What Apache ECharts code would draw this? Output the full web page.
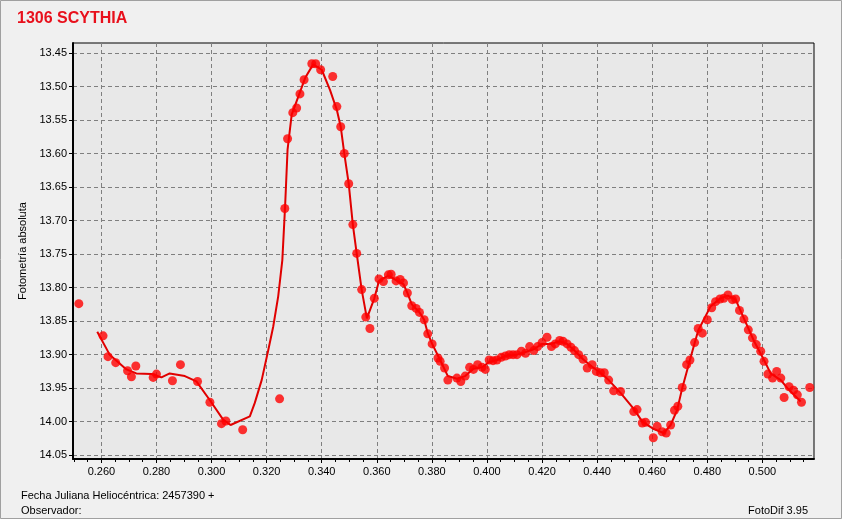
<!DOCTYPE html>
<html>
<head>
<meta charset="utf-8">
<script src="https://cdn.jsdelivr.net/npm/echarts@6/dist/echarts.min.js"></script>
<style>
html,body{margin:0;padding:0;background:#f0f0f0;}
#c{width:842px;height:519px;}
</style>
</head>
<body>
<div id="c"></div>
<script>
var obsPhase = [0.2518,0.2606,0.2624,0.2652,0.2695,0.2709,0.2725,0.2788,0.2800,0.2858,0.2887,0.2949,0.2994,0.3036,0.3052,0.3113,0.3247,0.3266,0.3276,0.3295,0.3309,0.3321,0.3336,0.3364,0.3378,0.3396,0.3440,0.3455,0.3469,0.3482,0.3498,0.3513,0.3527,0.3545,0.3560,0.3575,0.3591,0.3608,0.3624,0.3642,0.3652,0.3670,0.3685,0.3697,0.3711,0.3727,0.3743,0.3755,0.3772,0.3785,0.3801,0.3822,0.3830,0.3846,0.3858,0.3891,0.3905,0.3921,0.3937,0.3951,0.3966,0.3982,0.3994,0.4008,0.4022,0.4036,0.4052,0.4067,0.4081,0.4095,0.4109,0.4125,0.4140,0.4155,0.4170,0.4184,0.4200,0.4218,0.4234,0.4248,0.4264,0.4276,0.4291,0.4305,0.4318,0.4333,0.4349,0.4364,0.4382,0.4397,0.4412,0.4426,0.4442,0.4460,0.4485,0.4533,0.4545,0.4564,0.4576,0.4604,0.4618,0.4636,0.4651,0.4667,0.4681,0.4693,0.4709,0.4725,0.4737,0.4754,0.4767,0.4782,0.4800,0.4816,0.4830,0.4846,0.4860,0.4875,0.4891,0.4903,0.4917,0.4933,0.4949,0.4964,0.4978,0.4994,0.5006,0.5020,0.5037,0.5052,0.5067,0.5079,0.5097,0.5113,0.5127,0.5142,0.5172];
var obsMag = [13.824,13.872,13.903,13.912,13.924,13.933,13.917,13.934,13.929,13.939,13.915,13.940,13.971,14.003,13.999,14.012,13.966,13.682,13.578,13.539,13.532,13.511,13.490,13.466,13.466,13.475,13.485,13.530,13.560,13.600,13.645,13.706,13.749,13.803,13.844,13.861,13.816,13.787,13.791,13.781,13.780,13.790,13.788,13.793,13.808,13.827,13.831,13.837,13.848,13.869,13.884,13.905,13.910,13.920,13.938,13.935,13.940,13.932,13.919,13.922,13.915,13.919,13.922,13.908,13.909,13.908,13.904,13.902,13.900,13.900,13.900,13.895,13.898,13.888,13.894,13.888,13.882,13.874,13.888,13.884,13.879,13.880,13.884,13.889,13.894,13.900,13.907,13.920,13.915,13.925,13.927,13.927,13.938,13.954,13.955,13.985,13.982,14.002,14.001,14.024,14.007,14.015,14.017,14.005,13.983,13.977,13.949,13.915,13.908,13.882,13.861,13.868,13.848,13.830,13.821,13.817,13.816,13.811,13.818,13.817,13.834,13.847,13.863,13.875,13.885,13.895,13.910,13.929,13.935,13.925,13.935,13.964,13.948,13.953,13.960,13.971,13.949];
var fitPhase = [0.2585,0.2630,0.2691,0.2727,0.2782,0.2818,0.2848,0.2903,0.2945,0.2994,0.3042,0.3069,0.3139,0.3157,0.3182,0.3206,0.3224,0.3242,0.3257,0.3267,0.3276,0.3291,0.3315,0.3340,0.3369,0.3400,0.3430,0.3455,0.3469,0.3482,0.3498,0.3513,0.3527,0.3545,0.3564,0.3591,0.3608,0.3642,0.3670,0.3697,0.3711,0.3727,0.3755,0.3772,0.3785,0.3801,0.3830,0.3858,0.3891,0.3921,0.3951,0.3982,0.4008,0.4036,0.4067,0.4109,0.4140,0.4170,0.4200,0.4234,0.4264,0.4291,0.4318,0.4349,0.4382,0.4412,0.4442,0.4485,0.4533,0.4564,0.4606,0.4642,0.4667,0.4691,0.4709,0.4739,0.4767,0.4812,0.4848,0.4875,0.4903,0.4933,0.4970,0.5006,0.5030,0.5067,0.5091,0.5139];
var fitMag = [13.866,13.900,13.922,13.928,13.929,13.934,13.928,13.932,13.940,13.968,13.997,14.005,13.992,13.972,13.938,13.893,13.858,13.813,13.759,13.679,13.594,13.542,13.515,13.487,13.467,13.475,13.505,13.535,13.560,13.600,13.645,13.706,13.749,13.803,13.846,13.816,13.790,13.782,13.789,13.795,13.808,13.825,13.837,13.848,13.868,13.884,13.908,13.932,13.936,13.932,13.921,13.919,13.911,13.908,13.902,13.900,13.896,13.892,13.884,13.884,13.880,13.884,13.894,13.907,13.918,13.927,13.938,13.957,13.981,14.000,14.011,14.017,14.005,13.982,13.950,13.905,13.864,13.828,13.816,13.812,13.818,13.846,13.880,13.908,13.928,13.938,13.950,13.970];
var xTicks = [0.26,0.28,0.30,0.32,0.34,0.36,0.38,0.40,0.42,0.44,0.46,0.48,0.50];
var xMinorTicks = [0.25,0.255,0.265,0.27,0.275,0.285,0.29,0.295,0.305,0.31,0.315,0.325,0.33,0.335,0.345,0.35,0.355,0.365,0.37,0.375,0.385,0.39,0.395,0.405,0.41,0.415,0.425,0.43,0.435,0.445,0.45,0.455,0.465,0.47,0.475,0.485,0.49,0.495,0.505,0.51,0.515];
var yTicks = [13.45,13.50,13.55,13.60,13.65,13.70,13.75,13.80,13.85,13.90,13.95,14.00,14.05];

var FONT = 'Liberation Sans, Arial, sans-serif';
var X_MIN = 0.24969, X_MAX = 0.51875;
var Y_MIN = 13.4351, Y_MAX = 14.0557;

var obsData = obsPhase.map(function(p,i){return [p, obsMag[i]];});
var fitData = fitPhase.map(function(p,i){return [p, fitMag[i]];});

var chart = echarts.init(document.getElementById('c'), null, {renderer:'canvas'});
var dashed = {color:'#7f7f7f', type:[4,3], width:1};
chart.setOption({
  backgroundColor:'#f0f0f0',
  animation:false,
  title:{text:'1306 SCYTHIA', left:17, top:11, padding:0,
    textStyle:{color:'#e8101c', fontSize:16, fontWeight:'bold', fontFamily:FONT}},
  grid:{left:73, top:43, width:741, height:416, show:true, backgroundColor:'#e8e8e8', borderColor:'#000', borderWidth:1},
  xAxis:[{
    type:'value', min:X_MIN, max:X_MAX, position:'bottom',
    axisLine:{show:true, onZero:false, lineStyle:{color:'#000', width:2}},
    axisTick:{show:true, length:4, customValues:xTicks, lineStyle:{color:'#000'}},
    axisLabel:{customValues:xTicks, margin:7, color:'#000', fontSize:11, fontFamily:FONT,
      formatter:function(v){return v.toFixed(3);}},
    splitLine:{show:true, lineStyle:dashed}
  },{
    type:'value', min:X_MIN, max:X_MAX, position:'bottom',
    axisLine:{show:false},
    axisTick:{show:true, length:3, customValues:xMinorTicks, lineStyle:{color:'#000'}},
    axisLabel:{show:false},
    splitLine:{show:false}
  }],
  yAxis:{
    type:'value', inverse:true, min:Y_MIN, max:Y_MAX,
    name:'Fotometría absoluta', nameLocation:'middle', nameGap:45,
    nameTextStyle:{color:'#000', fontSize:11, fontFamily:FONT},
    axisLine:{show:true, onZero:false, lineStyle:{color:'#000', width:2}},
    axisTick:{show:true, length:4, customValues:yTicks, lineStyle:{color:'#000'}},
    axisLabel:{customValues:yTicks, margin:6, color:'#000', fontSize:11, fontFamily:FONT,
      formatter:function(v){return v.toFixed(2);}},
    splitLine:{show:true, lineStyle:dashed}
  },
  series:[{
    type:'line', data:fitData, xAxisIndex:0, showSymbol:false, symbol:'none',
    lineStyle:{color:'#e00000', width:2}, z:2
  },{
    type:'scatter', data:obsData, xAxisIndex:0, symbol:'circle', symbolSize:9,
    itemStyle:{color:'#ff0000'}, z:3
  }],
  graphic:[
    {type:'rect', shape:{x:0.5, y:0.5, width:841, height:518}, style:{fill:null, stroke:'#a0a0a0', lineWidth:1}, silent:true},
    {type:'text', left:21, top:490, style:{text:'Fecha Juliana Heliocéntrica: 2457390 +', fill:'#000', font:'11px ' + FONT}},
    {type:'text', left:21, top:505, style:{text:'Observador:', fill:'#000', font:'11px ' + FONT}},
    {type:'text', right:34, top:505, style:{text:'FotoDif 3.95', fill:'#000', font:'11px ' + FONT}}
  ]
});
</script>
</body>
</html>
